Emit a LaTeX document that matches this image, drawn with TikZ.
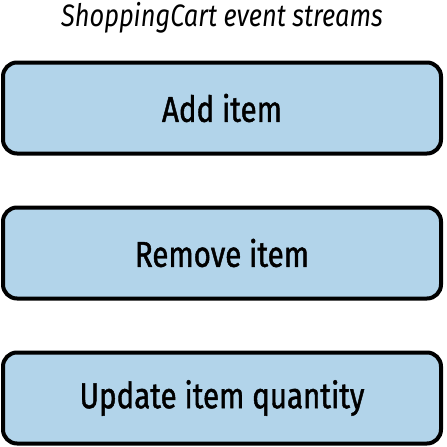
\documentclass[tikz,border=0pt]{standalone}
\usepackage{fontspec}
\setmainfont[FakeStretch=0.82]{Fira Sans}
\newfontfamily\boxfont[FakeStretch=0.82,FakeBold=1.2]{Fira Sans}
\usepackage{tikz}
\usetikzlibrary{positioning}
\definecolor{eventblue}{RGB}{178,212,234}
\tikzstyle{title} = [
    font=\fontsize{31}{36}\selectfont\itshape
]
\tikzstyle{eventbox} = [
    rectangle,
    rounded corners=14pt,
    minimum width=438pt,
    minimum height=91pt,
    line width=4pt,
    fill=eventblue,
    draw=black,
    font=\boxfont\fontsize{36}{42}\selectfont
]

\begin{document}
\begin{tikzpicture}[node distance=145pt]
\useasboundingbox (0,0) rectangle (447pt,-447pt);

\node (title) [title] at (222pt,-18pt) {ShoppingCart event streams};

\node (add) [eventbox, below of=title, node distance=90pt] {Add item};

\node (remove) [eventbox, below of=add] {Remove item};

\node (update) [eventbox, below of=remove] {Update item quantity};

\end{tikzpicture}
\end{document}
